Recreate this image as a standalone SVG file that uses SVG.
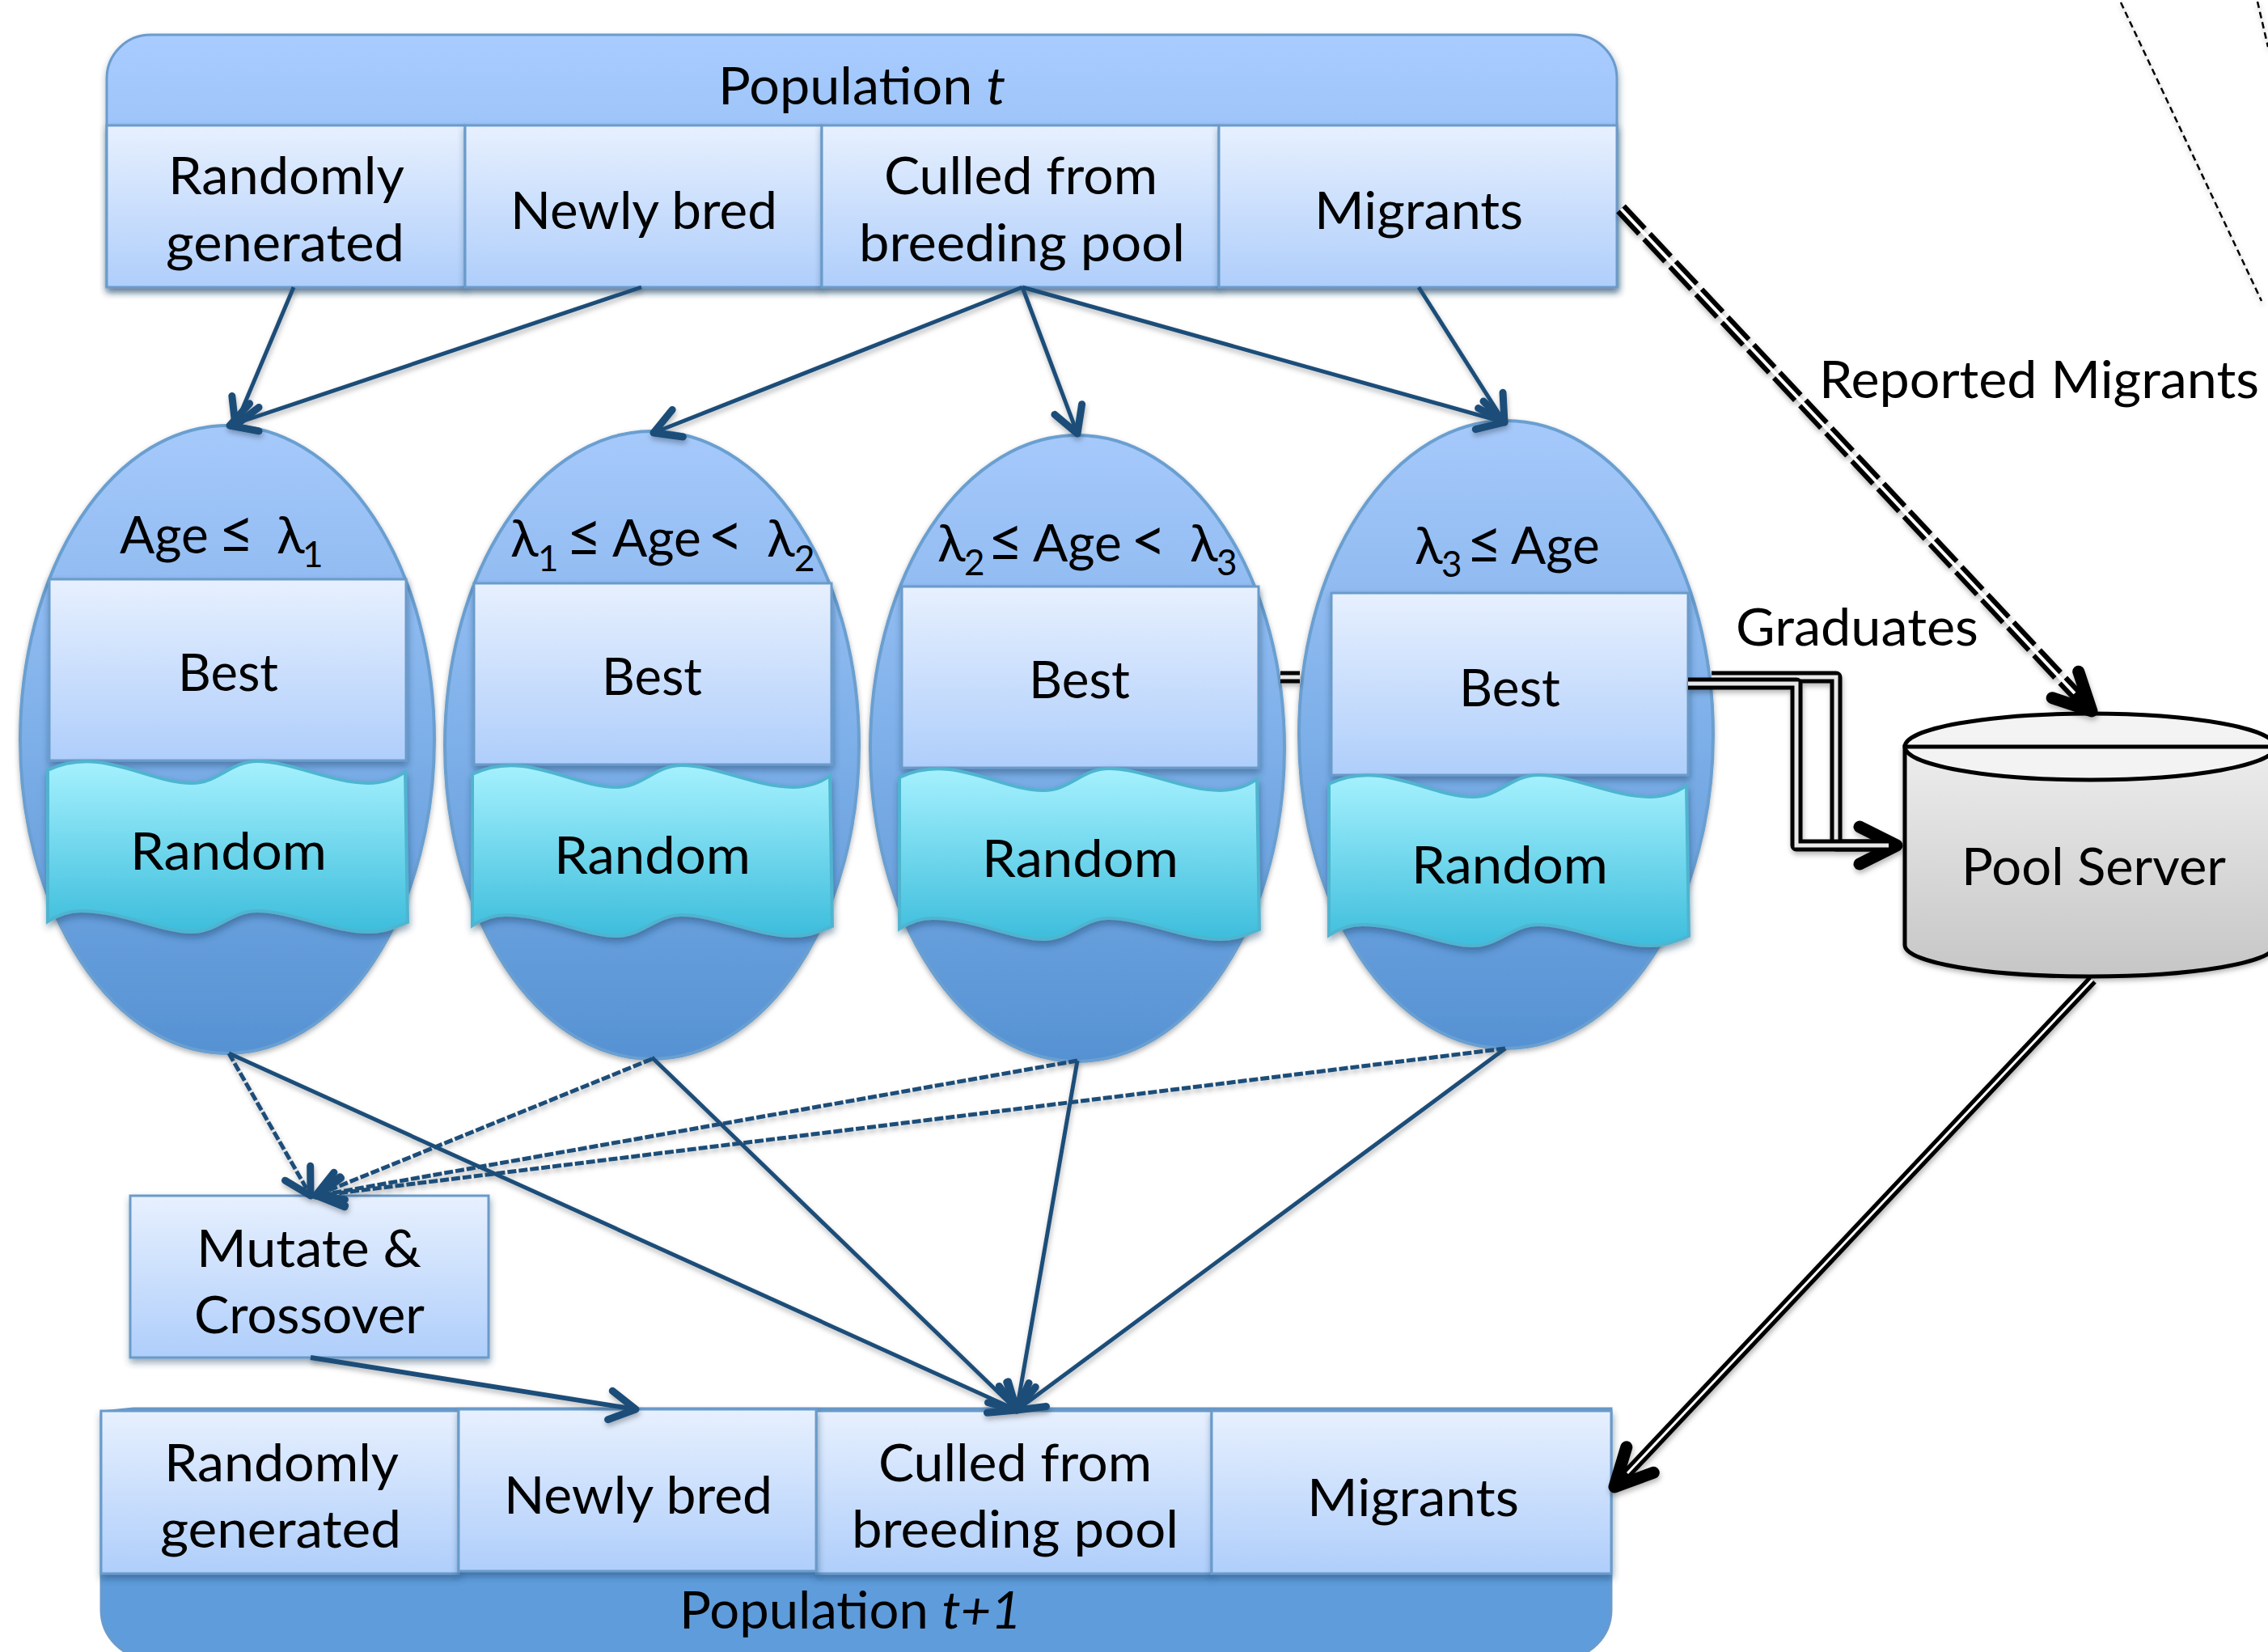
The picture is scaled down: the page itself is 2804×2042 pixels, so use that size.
<svg xmlns="http://www.w3.org/2000/svg" width="2804" height="2042" viewBox="0 0 2804 2042">
<style>
text{font-family:"Lato","Noto Sans",sans-serif;font-size:64px;fill:#000;transform:translate(0,2px)}
.cell{fill:url(#gCell);stroke:#6a9bcb;stroke-width:3;filter:url(#sh)}
.ell{stroke:#6a9fd0;stroke-width:4;fill:url(#gEll);filter:url(#shs)}
.wave{fill:url(#gWave);stroke:#4fb4cf;stroke-width:4;filter:url(#sh)}
.nv{fill:none;stroke:#1f4e79;stroke-width:5;marker-end:url(#mN)}
.nd{fill:none;stroke:#1f4e79;stroke-width:5;stroke-dasharray:11 3;marker-end:url(#mN)}
.bk{fill:none;stroke:#000;stroke-width:15;stroke-linejoin:round}
.wh{fill:none;stroke:#e8e8e8;stroke-width:5}
.sub{font-size:44px}
.op{font-size:76px}
</style>
<defs>
<linearGradient id="gCell" x1="0" y1="0" x2="0" y2="1"><stop offset="0" stop-color="#e7f0fe"/><stop offset="1" stop-color="#afcefb"/></linearGradient>
<linearGradient id="gEll" x1="0" y1="0" x2="0" y2="1"><stop offset="0" stop-color="#a6c9fb"/><stop offset=".5" stop-color="#7dafe8"/><stop offset="1" stop-color="#5692d3"/></linearGradient>
<linearGradient id="gWave" x1="0" y1="0" x2="0" y2="1"><stop offset="0" stop-color="#a5f1fe"/><stop offset="1" stop-color="#3dbddc"/></linearGradient>
<linearGradient id="gHead" x1="0" y1="0" x2="0" y2="1"><stop offset="0" stop-color="#a9ccff"/><stop offset="1" stop-color="#8ab7ee"/></linearGradient>
<linearGradient id="gBody" x1="0" y1="0" x2="0" y2="1"><stop offset="0" stop-color="#ededed"/><stop offset="1" stop-color="#c6c6c6"/></linearGradient>
<filter id="sh" x="-5%" y="-5%" width="110%" height="115%"><feDropShadow dx="1" dy="5" stdDeviation="4" flood-color="#1c3a5e" flood-opacity=".45"/></filter>
<filter id="shs" x="-5%" y="-5%" width="110%" height="110%"><feDropShadow dx="0" dy="3" stdDeviation="3" flood-color="#000" flood-opacity=".3"/></filter>
<filter id="shl" x="-5%" y="-5%" width="110%" height="110%"><feDropShadow dx="1" dy="4" stdDeviation="3" flood-color="#000" flood-opacity=".28"/></filter>
<marker id="mN" markerUnits="userSpaceOnUse" viewBox="-50 -30 60 60" markerWidth="60" markerHeight="60" refX="0" refY="0" orient="auto"><path d="M-32 -18L0 0L-32 18" fill="none" stroke="#1f4e79" stroke-width="9" stroke-linecap="round" stroke-linejoin="round"/></marker>
<marker id="mB" markerUnits="userSpaceOnUse" viewBox="-70 -45 85 90" markerWidth="85" markerHeight="90" refX="0" refY="0" orient="auto"><path d="M-46 -23L0 0L-46 23" fill="none" stroke="#000" stroke-width="15" stroke-linecap="round" stroke-linejoin="round"/></marker>
<path id="wv" d="M59 952C80 942 100 940 120 942C160 946 200 968 237 968C270 968 285 941 318 941C360 941 410 968 455 968C475 968 490 962 501 954L504 1140C480 1150 470 1152 455 1152C410 1152 360 1126 318 1126C285 1126 270 1152 237 1152C200 1152 150 1126 100 1126C85 1126 70 1132 59 1139Z"/>
</defs>
<rect width="2804" height="2042" fill="#fff"/>

<g id="population-t">
<path d="M132 354V97A54 54 0 0 1 186 43H1945A54 54 0 0 1 1999 97V354Z" fill="url(#gHead)" stroke="#6a9bcb" stroke-width="3" filter="url(#sh)"/>
<rect class="cell" x="132" y="155" width="443" height="200"/>
<rect class="cell" x="575" y="155" width="441" height="200"/>
<rect class="cell" x="1016" y="155" width="491" height="200"/>
<rect class="cell" x="1507" y="155" width="492" height="200"/>
<text x="888" y="127" textLength="355" lengthAdjust="spacingAndGlyphs">Population <tspan font-style="italic">t</tspan></text>
<text x="208" y="238" textLength="292" lengthAdjust="spacingAndGlyphs">Randomly</text>
<text x="205" y="321" textLength="295" lengthAdjust="spacingAndGlyphs">generated</text>
<text x="631" y="281" textLength="330" lengthAdjust="spacingAndGlyphs">Newly bred</text>
<text x="1093" y="238" textLength="338" lengthAdjust="spacingAndGlyphs">Culled from</text>
<text x="1062" y="321" textLength="403" lengthAdjust="spacingAndGlyphs">breeding pool</text>
<text x="1625" y="281" textLength="258" lengthAdjust="spacingAndGlyphs">Migrants</text>
</g>

<g id="age-group-1">
<ellipse class="ell" cx="281" cy="914" rx="256" ry="388"/>
<rect class="cell" x="61" y="716" width="441" height="224"/>
<use href="#wv" class="wave"/>
<text y="682"><tspan x="148">Age</tspan><tspan x="270" class="op">≤</tspan><tspan x="342">λ</tspan><tspan x="374" y="699" class="sub">1</tspan></text>
<text x="220" y="852" textLength="124" lengthAdjust="spacingAndGlyphs">Best</text>
<text x="161" y="1073" textLength="243" lengthAdjust="spacingAndGlyphs">Random</text>
</g>

<g id="age-group-2">
<ellipse class="ell" cx="806" cy="921" rx="256" ry="388"/>
<rect class="cell" x="586" y="721" width="442" height="224"/>
<use href="#wv" class="wave" x="525" y="5"/>
<text y="686"><tspan x="631">λ</tspan><tspan x="665" y="704" class="sub">1</tspan><tspan x="700" y="686" class="op">≤</tspan><tspan x="757">Age</tspan><tspan x="875" class="op">&lt;</tspan><tspan x="948">λ</tspan><tspan x="982" y="704" class="sub">2</tspan></text>
<text x="744" y="857" textLength="124" lengthAdjust="spacingAndGlyphs">Best</text>
<text x="685" y="1078" textLength="243" lengthAdjust="spacingAndGlyphs">Random</text>
</g>

<g id="age-group-3">
<ellipse class="ell" cx="1332" cy="925" rx="256" ry="387"/>
<rect class="cell" x="1115" y="725" width="441" height="224"/>
<use href="#wv" class="wave" x="1053" y="9"/>
<text y="692"><tspan x="1159">λ</tspan><tspan x="1192" y="709" class="sub">2</tspan><tspan x="1221" y="692" class="op">≤</tspan><tspan x="1277">Age</tspan><tspan x="1398" class="op">&lt;</tspan><tspan x="1471">λ</tspan><tspan x="1504" y="709" class="sub">3</tspan></text>
<text x="1272" y="861" textLength="125" lengthAdjust="spacingAndGlyphs">Best</text>
<text x="1214" y="1082" textLength="243" lengthAdjust="spacingAndGlyphs">Random</text>
</g>

<g id="age-group-4">
<ellipse class="ell" cx="1862" cy="908" rx="256" ry="388"/>
<rect class="cell" x="1646" y="733" width="441" height="225"/>
<use href="#wv" class="wave" x="1584" y="17"/>
<text y="695"><tspan x="1749">λ</tspan><tspan x="1782" y="711" class="sub">3</tspan><tspan x="1813" y="695" class="op">≤</tspan><tspan x="1868">Age</tspan></text>
<text x="1804" y="871" textLength="125" lengthAdjust="spacingAndGlyphs">Best</text>
<text x="1745" y="1090" textLength="243" lengthAdjust="spacingAndGlyphs">Random</text>
</g>

<g id="mutate-crossover">
<rect class="cell" x="161" y="1478" width="443" height="200"/>
<text x="243" y="1564" textLength="278" lengthAdjust="spacingAndGlyphs">Mutate &amp;</text>
<text x="240" y="1646" textLength="285" lengthAdjust="spacingAndGlyphs">Crossover</text>
</g>

<g id="population-t1">
<path d="M165 1741H1992V1990A60 60 0 0 1 1932 2050H185A60 60 0 0 1 125 1990V1745Z" fill="#5f9cdb" stroke="#6a9bcb" stroke-width="3"/>
<rect class="cell" x="125" y="1744" width="442" height="201"/>
<rect class="cell" x="1009" y="1744" width="489" height="201"/>
<rect class="cell" x="1498" y="1744" width="494" height="201"/>
<rect class="cell" x="567" y="1742" width="442" height="200"/>
<text x="203" y="1829" textLength="290" lengthAdjust="spacingAndGlyphs">Randomly</text>
<text x="198" y="1911" textLength="298" lengthAdjust="spacingAndGlyphs">generated</text>
<text x="623" y="1869" textLength="332" lengthAdjust="spacingAndGlyphs">Newly bred</text>
<text x="1086" y="1829" textLength="338" lengthAdjust="spacingAndGlyphs">Culled from</text>
<text x="1053" y="1911" textLength="404" lengthAdjust="spacingAndGlyphs">breeding pool</text>
<text x="1616" y="1872" textLength="262" lengthAdjust="spacingAndGlyphs">Migrants</text>
<text x="840" y="2011" textLength="423" lengthAdjust="spacingAndGlyphs">Population <tspan font-style="italic">t+1</tspan></text>
</g>

<g id="pool-server">
<path d="M2355 923V1168C2355 1190 2458 1207 2584 1207C2710 1207 2813 1190 2813 1168V923Z" fill="url(#gBody)" stroke="#000" stroke-width="5" filter="url(#shs)"/>
<ellipse cx="2584" cy="923" rx="229" ry="41" fill="#f3f3f3" stroke="#000" stroke-width="5"/>
<path d="M2355 923H2813" stroke="#000" stroke-width="5"/>
<text x="2425" y="1092" textLength="327" lengthAdjust="spacingAndGlyphs">Pool Server</text>
</g>

<text x="2249" y="490" textLength="544" lengthAdjust="spacingAndGlyphs">Reported Migrants</text>
<text x="2146" y="796" textLength="300" lengthAdjust="spacingAndGlyphs">Graduates</text>

<g id="connectors" filter="url(#shl)">
<path class="nv" d="M363 355L291 526"/>
<path class="nv" d="M793 355L284 526"/>
<path class="nv" d="M1264 355L808 535"/>
<path class="nv" d="M1264 355L1332 536"/>
<path class="nv" d="M1264 355L1860 522"/>
<path class="nv" d="M1754 355L1860 522"/>
<path class="nv" d="M283 1302L1257 1743"/>
<path class="nv" d="M806 1307L1257 1743"/>
<path class="nv" d="M1332 1311L1257 1743"/>
<path class="nv" d="M1861 1296L1257 1743"/>
<path class="nd" d="M283 1302L384 1478"/>
<path class="nd" d="M806 1309L390 1478"/>
<path class="nd" d="M1332 1311L392 1478"/>
<path class="nd" d="M1861 1296L392 1478"/>
<path class="nv" style="stroke-width:6" d="M384 1678L786 1742"/>
<path d="M2622 3L2796 372" fill="none" stroke="#000" stroke-width="2.5" stroke-dasharray="8 5"/>
<path d="M2791 2L2804 58" fill="none" stroke="#000" stroke-width="2.5" stroke-dasharray="8 5"/>
<g id="graduates">
<path class="bk" d="M1583 837H1607"/>
<path class="wh" d="M1583 837H1607"/>
<path class="bk" d="M2116 837H2270V1045H2340"/>
<path class="wh" d="M2116 837H2270V1045H2340"/>
<path class="bk" d="M2087 845H2221V1045H2345" style="marker-end:url(#mB)"/>
<path class="wh" d="M2087 845H2221V1045H2335"/>
</g>
<g id="reported-migrants">
<path d="M2004 258L2583 876" fill="none" stroke="#000" stroke-width="16" stroke-dasharray="38 9"/>
<path d="M2004 258L2565 857" fill="none" stroke="#fff" stroke-width="4"/>
<path d="M2575 868L2586 879" fill="none" stroke="none" style="marker-end:url(#mB)"/>
</g>
<g id="pool-to-population">
<path d="M2587 1211L1996 1838" fill="none" stroke="#000" stroke-width="13" style="marker-end:url(#mB)"/>
<path d="M2587 1211L2012 1821" fill="none" stroke="#fff" stroke-width="3"/>
</g>
</g>
</svg>
